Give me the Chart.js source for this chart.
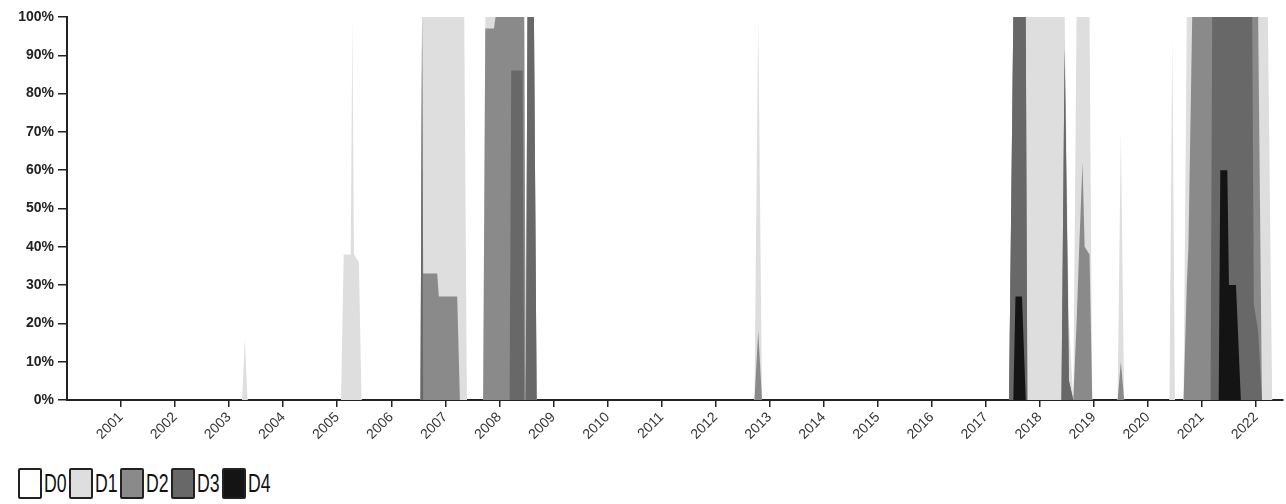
<!DOCTYPE html>
<html>
<head>
<meta charset="utf-8">
<script src="https://cdn.jsdelivr.net/npm/chart.js@4/dist/chart.umd.min.js"></script>
<style>
  body { margin: 0; background: #fff; }
  #wrap { position: absolute; left: 0; top: 0; width: 1286px; height: 450px; }
  #legend { position: absolute; left: 18px; top: 468px; display: flex; font-family: "Liberation Sans", Arial, sans-serif; font-size: 26px; color: #111; }
  .item { display: flex; align-items: center; width: 51px; flex-shrink: 0; }
  .box { width: 20px; height: 27px; border: 2px solid #222; border-radius: 2px; margin-right: 2px; flex-shrink: 0; }
  .txt { display: inline-block; transform: scaleX(0.68); transform-origin: left center; line-height: 31px; }
</style>
</head>
<body>
<div id="wrap"><canvas id="chart"></canvas></div>
<div id="legend"></div>
<script>
// decimal years, cumulative percent of area in each category (D0 >= D1 >= ... >= D4)
const dates = [
  2000.00, 2003.24, 2003.29, 2003.34, 2005.07, 2005.12, 2005.25, 2005.28, 2005.31, 2005.40,
  2005.45, 2006.54, 2006.57, 2006.59, 2006.85, 2006.88, 2007.22, 2007.27, 2007.35, 2007.40,
  2007.70, 2007.74, 2007.90, 2007.93, 2008.19, 2008.22, 2008.43, 2008.46, 2008.49, 2008.52,
  2008.64, 2008.69, 2012.72, 2012.79, 2012.86, 2017.43, 2017.48, 2017.51, 2017.55, 2017.67,
  2017.74, 2017.77, 2018.40, 2018.46, 2018.54, 2018.62, 2018.68, 2018.73, 2018.79, 2018.83,
  2018.92, 2018.97, 2019.44, 2019.50, 2019.56, 2020.40, 2020.45, 2020.50, 2020.66, 2020.72,
  2020.75, 2020.82, 2021.16, 2021.19, 2021.31, 2021.34, 2021.47, 2021.50, 2021.63, 2021.72,
  2021.93, 2021.96, 2022.04, 2022.11, 2022.22, 2022.30, 2022.50
];
const d0 = [
  0, 0, 16, 0, 0, 38, 38, 99, 38, 36,
  0, 0, 100, 100, 100, 100, 100, 100, 100, 0,
  0, 100, 100, 100, 100, 100, 100, 100, 100, 100,
  100, 0, 0, 100, 0, 0, 62, 100, 100, 100,
  100, 100, 100, 100, 20, 0, 100, 100, 100, 100,
  100, 0, 0, 70, 0, 0, 95, 0, 0, 100,
  100, 100, 100, 100, 100, 100, 100, 100, 100, 100,
  100, 100, 100, 100, 100, 0, 0
];
const d1 = [
  0, 0, 16, 0, 0, 38, 38, 99, 38, 36,
  0, 0, 100, 100, 100, 100, 100, 100, 100, 0,
  0, 100, 100, 100, 100, 100, 100, 100, 0, 100,
  100, 0, 0, 100, 0, 0, 62, 100, 100, 100,
  100, 100, 100, 100, 20, 0, 100, 100, 100, 100,
  100, 0, 0, 70, 0, 0, 95, 0, 0, 100,
  100, 100, 100, 100, 100, 100, 100, 100, 100, 100,
  100, 100, 100, 100, 100, 0, 0
];
const d2 = [
  0, 0, 0, 0, 0, 0, 0, 0, 0, 0,
  0, 0, 100, 33, 33, 27, 27, 0, 0, 0,
  0, 97, 97, 100, 100, 100, 100, 100, 0, 100,
  100, 0, 0, 18, 0, 0, 62, 100, 100, 100,
  100, 0, 0, 92, 5, 0, 20, 40, 62, 40,
  38, 0, 0, 10, 0, 0, 0, 0, 0, 30,
  40, 100, 100, 100, 100, 100, 100, 100, 100, 100,
  100, 100, 100, 0, 0, 0, 0
];
const d3 = [
  0, 0, 0, 0, 0, 0, 0, 0, 0, 0,
  0, 0, 100, 0, 0, 0, 0, 0, 0, 0,
  0, 0, 0, 0, 0, 86, 86, 0, 0, 100,
  100, 0, 0, 0, 0, 0, 62, 100, 100, 100,
  100, 0, 0, 92, 5, 0, 0, 0, 0, 0,
  0, 0, 0, 0, 0, 0, 0, 0, 0, 0,
  0, 0, 0, 100, 100, 100, 100, 100, 100, 100,
  100, 25, 18, 0, 0, 0, 0
];
const d4 = [
  0, 0, 0, 0, 0, 0, 0, 0, 0, 0,
  0, 0, 0, 0, 0, 0, 0, 0, 0, 0,
  0, 0, 0, 0, 0, 0, 0, 0, 0, 0,
  0, 0, 0, 0, 0, 0, 0, 0, 27, 27,
  0, 0, 0, 0, 0, 0, 0, 0, 0, 0,
  0, 0, 0, 0, 0, 0, 0, 0, 0, 0,
  0, 0, 0, 0, 0, 60, 60, 30, 30, 0,
  0, 0, 0, 0, 0, 0, 0
];
const categories = ['D0', 'D1', 'D2', 'D3', 'D4'];
const colors = ['#ffffff', '#dedede', '#8a8a8a', '#686868', '#141414'];
const yearTicks = [2001, 2002, 2003, 2004, 2005, 2006, 2007, 2008, 2009, 2010, 2011,
  2012, 2013, 2014, 2015, 2016, 2017, 2018, 2019, 2020, 2021, 2022];

const series = [d0, d1, d2, d3, d4];

const datasets = series.map((vals, i) => ({
  label: categories[i],
  data: vals.map((v, j) => ({ x: dates[j], y: v })),
  backgroundColor: colors[i],
  borderWidth: 0,
  pointRadius: 0,
  fill: 'origin',
  tension: 0,
  order: 5 - i
}));

new Chart(document.getElementById('chart'), {
  type: 'line',
  data: { datasets },
  options: {
    responsive: true,
    maintainAspectRatio: false,
    animation: false,
    layout: { padding: { top: 17, right: 3, left: 0, bottom: 0 } },
    plugins: { legend: { display: false }, tooltip: { enabled: false } },
    scales: {
      x: {
        type: 'linear',
        min: 2000,
        max: 2022.5,
        afterBuildTicks: s => { s.ticks = yearTicks.map(v => ({ value: v })); },
        afterFit: s => { s.height = 50; },
        grid: { drawOnChartArea: false, drawTicks: true, tickLength: 7, color: '#222', lineWidth: 1.5 },
        border: { display: true, color: '#222', width: 2 },
        ticks: {
          autoSkip: false,
          minRotation: 45,
          maxRotation: 45,
          padding: 2,
          color: '#333',
          font: { family: 'Liberation Sans, Arial, sans-serif', size: 14 },
          callback: v => String(v)
        }
      },
      y: {
        min: 0,
        max: 100,
        afterFit: s => { s.width = 67; },
        grid: { drawOnChartArea: false, drawTicks: true, tickLength: 9, color: '#222', lineWidth: 1.5 },
        border: { display: true, color: '#222', width: 2 },
        ticks: {
          stepSize: 10,
          padding: 4,
          color: '#222',
          font: { family: 'Liberation Sans, Arial, sans-serif', size: 14, weight: 'bold' },
          callback: v => v + '%'
        }
      }
    }
  }
});

// legend
const legendEl = document.getElementById('legend');
categories.forEach((c, i) => {
  const item = document.createElement('div');
  item.className = 'item';
  const box = document.createElement('div');
  box.className = 'box';
  box.style.background = colors[i];
  const txt = document.createElement('span');
  txt.className = 'txt';
  txt.textContent = c;
  item.appendChild(box);
  item.appendChild(txt);
  legendEl.appendChild(item);
});
</script>
</body>
</html>
